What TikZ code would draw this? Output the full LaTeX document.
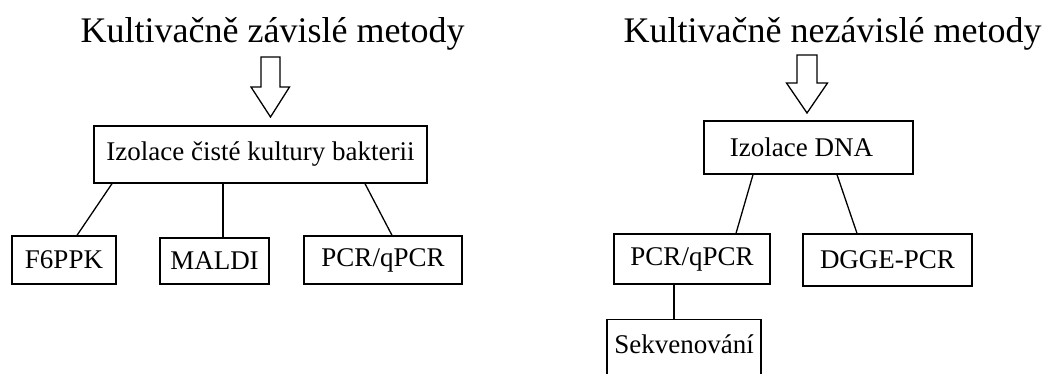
\documentclass[tikz,border=0pt]{standalone}
\usepackage{fontspec}
\setmainfont{Liberation Serif}
\tikzset{
  box/.style={draw=black, line width=1.3pt, rectangle, inner sep=0pt,
              font=\fontsize{27}{30}\selectfont},
  title/.style={font=\fontsize{36}{40}\selectfont, anchor=base, inner sep=0pt},
  link/.style={draw=black, line width=1.3pt},
  blockarrow/.style={draw=black, line width=1.3pt, fill=white, line join=miter}
}
\begin{document}
\begin{tikzpicture}[x=1pt,y=-1pt]
\useasboundingbox (0,0) rectangle (1046,374);
\clip (0,0) rectangle (1046,374);

% headings
\node[title] (t1) at (272.5,43) {Kultivačně závislé metody};
\node[title] (t2) at (832.5,43) {Kultivačně nezávislé metody};

% hollow block arrows under the headings
\draw[blockarrow] (261,57) -- (280,57) -- (280,87) -- (289.5,87) -- (270.5,117)
  -- (251,87) -- (261,87) -- cycle;
\draw[blockarrow] (797,55) -- (817,55) -- (817,83) -- (827.5,83) -- (807,113)
  -- (786.5,83) -- (797,83) -- cycle;

% culture-dependent branch
\node[box, minimum width=333, minimum height=57] (iz) at (260.5,154.5) {Izolace čisté kultury bakterii};
\node[box, minimum width=104, minimum height=48] (f6) at (64,260) {F6PPK};
\node[box, minimum width=109, minimum height=46] (maldi) at (214.5,261) {MALDI};
\node[box, minimum width=158, minimum height=48] (pcrL) at (383,260) {PCR/qPCR};

\draw[link] ([xshift=-148.5]iz.south) -- ([xshift=13]f6.north);
\draw[link] ([xshift=-37.5]iz.south) -- ([xshift=8.5]maldi.north);
\draw[link] ([xshift=104.5]iz.south) -- ([xshift=9]pcrL.north);

% culture-independent branch
\node[box, minimum width=209, minimum height=53] (dna) at (808.5,147.5) {\hspace*{-14pt}Izolace DNA};
\node[box, minimum width=156, minimum height=50] (pcrR) at (692,259) {PCR/qPCR};
\node[box, minimum width=169, minimum height=52] (dgge) at (887.5,260) {DGGE-PCR};
\node[box, anchor=north, minimum width=154, inner ysep=14pt,
      text height=20pt, text depth=40pt] (sek) at (684,319) {Sekvenování};

\draw[link] ([xshift=-55.5]dna.south) -- ([xshift=44]pcrR.north);
\draw[link] ([xshift=28.5]dna.south) -- ([xshift=-30.5]dgge.north);
\draw[link] ([xshift=-18]pcrR.south) -- ([xshift=-10]sek.north);
\end{tikzpicture}
\end{document}
